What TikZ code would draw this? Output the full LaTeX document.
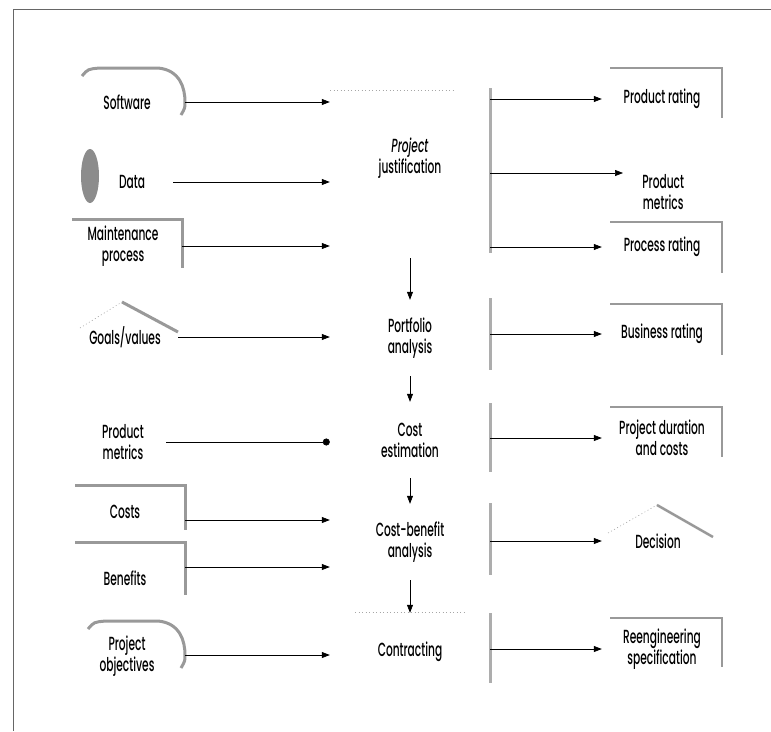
\documentclass[tikz,border=0pt]{standalone}
\usepackage{fontspec}
\setmainfont{Poppins}[FakeStretch=0.56, UprightFont={* Medium}, ItalicFont={* Medium Italic}]
\usetikzlibrary{positioning,arrows.meta}

\begin{document}
\begin{tikzpicture}[x=1pt,y=-1pt,
    lbl/.style={align=center, font=\fontsize{19}{21}\selectfont, inner sep=1pt},
    stage/.style={lbl, minimum width=160pt, minimum height=76pt},
    shade/.style={draw=black!40, line width=3pt},
    faint/.style={draw=black!35, dash pattern=on 1pt off 2.5pt, line width=0.6pt},
    bar/.style={draw=black!32, line width=3pt},
    flow/.style={-{Triangle[length=8pt,width=6pt]}, line width=0.7pt}]
    \useasboundingbox (0,0) rectangle (771,731);
    % frame
    \draw[black!60, line width=0.8pt] (771,9) -- (13,9) -- (13,731);

    % inputs
    \node[lbl] (software) at (127,102) {Software};
    \node[lbl] (data) at (132,182) {Data};
    \node[lbl] (maint) at (123,246) {Maintenance\\process};
    \node[lbl] (goals) at (125,337) {Goals/values};
    \node[lbl] (pmetin) at (123,442) {Product\\metrics};
    \node[lbl] (costs) at (125,512) {Costs};
    \node[lbl] (benefits) at (125,578) {Benefits};
    \node[lbl] (objectives) at (127,656) {Project\\objectives};
    \coordinate (software-out) at (185,102);
    \coordinate (data-out) at (173,182);
    \coordinate (maint-out) at (182,246);
    \coordinate (goals-out) at (178,337);
    \coordinate (pmetin-out) at (166,442);
    \coordinate (costs-out) at (185,520);
    \coordinate (benefits-out) at (185,567);
    \coordinate (objectives-out) at (185,655);

    \draw[shade] (82,76) .. controls (88,69) .. (100,68) -- (158,68)
        .. controls (180,70) and (185,88) .. (185,102) .. controls (185,108) .. (181,115);
    \fill[black!45] (90,176) ellipse (9pt and 27pt);
    \draw[shade] (72,219) -- (182,219) -- (182,268);
    \draw[faint] (80,328) -- (122,302);
    \draw[shade] (122,302) -- (178,332);
    \draw[shade] (75,485) -- (185,485) -- (185,530);
    \draw[shade] (75,542) -- (185,542) -- (185,595);
    \draw[shade] (88,629) .. controls (94,622) .. (106,621) -- (158,621)
        .. controls (180,623) and (185,641) .. (185,655) .. controls (185,661) .. (181,668);

    % stages
    \node[stage, minimum height=200pt] (justif) at (410,158) {\textit{Project}\\justification};
    \node[stage] (portfolio) at (410,338) {Portfolio\\analysis};
    \node[stage] (costest) at (410,440) {Cost\\estimation};
    \node[stage] (cba) at (410,542) {Cost-benefit\\analysis};
    \node[stage, minimum height=78pt] (contract) at (410,652) {Contracting};
    \draw[faint] (330,90) -- (455,90);
    \draw[faint] (355,612) -- (465,612);

    % outputs
    \node[lbl, minimum width=120pt] (prate) at (662,99) {Product rating};
    \node[lbl, minimum width=80pt, anchor=north west] (pmetout) at (623,173) {Product\\metrics};
    \node[lbl, minimum width=120pt] (procrate) at (662,247) {Process rating};
    \node[lbl, minimum width=120pt] (busrate) at (662,334) {Business rating};
    \node[lbl, minimum width=120pt] (duration) at (662,438) {Project duration\\and costs};
    \node[lbl, minimum width=112pt] (decision) at (658,541) {Decision};
    \node[lbl, minimum width=120pt] (reeng) at (662,649) {Reengineering\\specification};

    \draw[shade, line width=2.5pt] (610,68) -- (722,68) -- (722,118);
    \draw[shade, line width=2.5pt] (610,222) -- (722,222) -- (722,273);
    \draw[shade, line width=2.5pt] (610,304) -- (722,304) -- (722,355);
    \draw[shade, line width=2.5pt] (610,407) -- (722,407) -- (722,457);
    \draw[faint] (608,533) -- (657,505);
    \draw[shade, line width=2.5pt] (657,505) -- (713,537);
    \draw[shade, line width=2.5pt] (610,618) -- (722,618) -- (722,667);

    \draw[bar] (490,88) -- (490,253);
    \draw[bar] (490,298) -- (490,370);
    \draw[bar] (490,403) -- (490,472);
    \draw[bar] (490,503) -- (490,575);
    \draw[bar] (490,613) -- (490,683);

    % connectors
    \draw[flow] (software-out) -- (software-out -| justif.west);
    \draw[flow] (data-out) -- (data-out -| justif.west);
    \draw[flow] (maint-out) -- (maint-out -| justif.west);
    \draw[flow] (goals-out) -- (goals-out -| portfolio.west);
    \draw[-{Circle[length=7pt]}, line width=0.7pt] (pmetin-out) -- (pmetin-out -| costest.west);
    \draw[flow] (costs-out) -- (costs-out -| cba.west);
    \draw[flow] (benefits-out) -- (benefits-out -| cba.west);
    \draw[flow] (objectives-out) -- (objectives-out -| contract.west);

    \draw[flow] (justif) -- (portfolio);
    \draw[flow] (portfolio) -- (costest);
    \draw[flow] (costest) -- (cba);
    \draw[flow] (cba) -- (contract);

    \draw[flow] (justif.east |- prate) -- (prate);
    \draw[flow] (justif.east |- pmetout.north west) -- (pmetout.north west);
    \draw[flow] (justif.east |- procrate) -- (procrate);
    \draw[flow] (portfolio.east |- busrate) -- (busrate);
    \draw[flow] (costest.east |- duration) -- (duration);
    \draw[flow] (cba.east |- decision) -- (decision);
    \draw[flow] (contract.east |- reeng) -- (reeng);
\end{tikzpicture}
\end{document}
